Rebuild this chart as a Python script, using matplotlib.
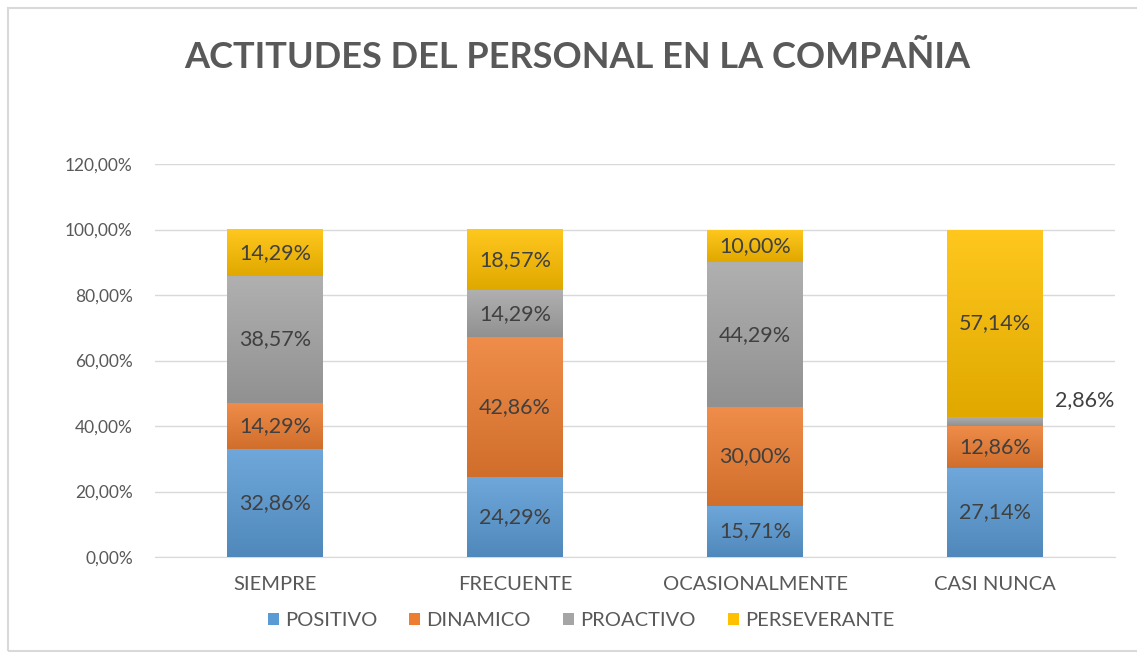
import numpy as np
import matplotlib.pyplot as plt
from matplotlib.colors import LinearSegmentedColormap, to_rgb
from matplotlib.patches import Rectangle

plt.rcParams['font.family'] = ['Lato', 'DejaVu Sans']

# data to plot
categories = ['SIEMPRE', 'FRECUENTE', 'OCASIONALMENTE', 'CASI NUNCA']
series_names = ['POSITIVO', 'DINAMICO', 'PROACTIVO', 'PERSEVERANTE']
positivo = [32.86, 24.29, 15.71, 27.14]
dinamico = [14.29, 42.86, 30.00, 12.86]
proactivo = [38.57, 14.29, 44.29, 2.86]
perseverante = [14.29, 18.57, 10.00, 57.14]
yticks = [0, 20, 40, 60, 80, 100, 120]

series = [positivo, dinamico, proactivo, perseverante]
colors = ['#5B9BD5', '#ED7D31', '#A5A5A5', '#FFC000']


def shade(c, f):
    r, g, b = to_rgb(c)
    if f > 0:
        return (r + (1 - r) * f, g + (1 - g) * f, b + (1 - b) * f)
    return (r * (1 + f), g * (1 + f), b * (1 + f))


fig = plt.figure(figsize=(11.37, 6.54), dpi=100)
ax = fig.add_axes([155 / 1137, 1 - 557 / 654, 960 / 1137, 393 / 654])

index = np.arange(len(categories))
bar_width = 0.4
bottom = np.zeros(len(categories))

for name, vals, col in zip(series_names, series, colors):
    vals = np.array(vals) / 100.0
    rects = ax.bar(index, vals, bar_width, bottom=bottom, color=col,
                   label=name, zorder=2)
    cmap = LinearSegmentedColormap.from_list(name, [shade(col, -0.12), shade(col, 0.12)])
    for r in rects:
        x0, y0 = r.get_x(), r.get_y()
        img = ax.imshow(np.linspace(0, 1, 50).reshape(-1, 1), cmap=cmap,
                        origin='lower', aspect='auto', zorder=3,
                        extent=[x0, x0 + r.get_width(), y0, y0 + r.get_height()])
        img.set_clip_path(r)
    for i, (v, b) in enumerate(zip(vals, bottom)):
        txt = f'{v * 100:.2f}%'.replace('.', ',')
        if v < 0.05:
            ax.text(index[i] + 0.375, b + v / 2 + 0.065, txt, ha='center',
                    va='center', fontsize=15.5, color='#404040', zorder=4)
        else:
            ax.text(index[i], b + v / 2, txt, ha='center', va='center',
                    fontsize=15.5, color='#404040', zorder=4)
    bottom = bottom + vals

ax.set_xlim(-0.5, 3.5)
ax.set_ylim(0, 1.2)
ax.set_yticks([t / 100 for t in yticks])
ax.set_yticklabels([f'{t:.2f}%'.replace('.', ',') for t in yticks],
                   fontsize=12.5, color='#595959')
ax.set_xticks(index)
ax.set_xticklabels(categories, fontsize=14.5, color='#595959')
ax.tick_params(length=0)
ax.tick_params(axis='y', pad=16)
ax.tick_params(axis='x', pad=14)
ax.grid(axis='y', color='#D9D9D9', linewidth=1, zorder=0)
ax.set_axisbelow(True)
for s in ['top', 'right', 'left']:
    ax.spines[s].set_visible(False)
ax.spines['bottom'].set_color('#D9D9D9')

fig.text(577 / 1137, 1 - 57 / 654, 'ACTITUDES DEL PERSONAL EN LA COMPAÑIA',
         ha='center', va='center', fontsize=26, fontweight='bold', color='#595959')

fig.legend(loc='center', bbox_to_anchor=(581 / 1137, 1 - 621 / 654), ncol=4,
           frameon=False, fontsize=14.5, labelcolor='#595959', handlelength=0.55,
           handleheight=0.55, handletextpad=0.3, columnspacing=1.6)

fig.patches.append(Rectangle((8 / 1137, 0.005), 1.1, 1 - 8 / 654 - 0.005,
                             transform=fig.transFigure, fill=False,
                             edgecolor='#D9D9D9', linewidth=1.5))

fig.savefig('out.png', dpi=100)
